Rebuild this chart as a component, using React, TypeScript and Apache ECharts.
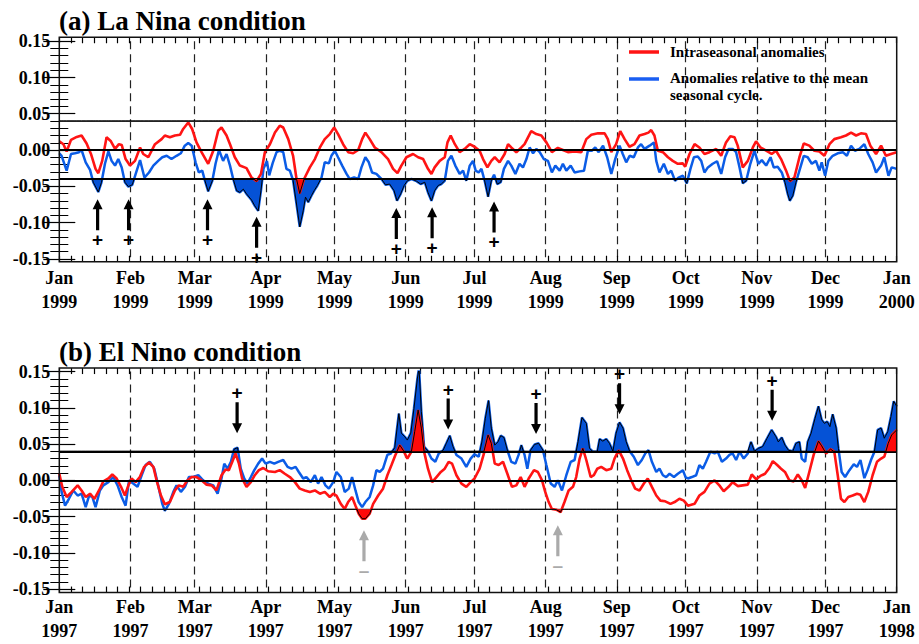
import React, { useEffect, useRef } from "react";
import * as echarts from "echarts";

// ---------- axis definitions ----------
const monthLengths = [31, 28, 31, 30, 31, 30, 31, 31, 30, 31, 30, 31];
const monthNames = ["Jan", "Feb", "Mar", "Apr", "May", "Jun", "Jul", "Aug", "Sep", "Oct", "Nov", "Dec", "Jan"];
const yearsA = ["1999", "1999", "1999", "1999", "1999", "1999", "1999", "1999", "1999", "1999", "1999", "1999", "2000"];
const yearsB = ["1997", "1997", "1997", "1997", "1997", "1997", "1997", "1997", "1997", "1997", "1997", "1997", "1998"];
const thresholds = [0.04, 0, -0.04];
const minorTicksPerYear = 72;

// ---------- (a) La Nina, 1999 ----------
const redDaysA = [0,1.8,3.2,5.1,7.6,9.7,11.9,13.8,15.8,17,
18.7,20.6,22.5,24.3,26,27.2,28.9,30.8,33,35.2,
36.6,38.8,41.7,44.6,46,48.2,50.4,52.6,54,56.2,
57.9,59.8,62,64.9,67.1,69.3,70.7,72.9,74.4,76.5,
78.7,81.6,83.8,86,87.9,89.6,91.8,94,96.1,97.6,
99.8,101.9,103.4,104.8,106.7,109.2,111.4,113.6,115.7,117.9,
119.8,121.5,123.7,125.9,128.1,130.3,132,133.4,135.3,137.5,
140.4,143.3,145.5,147.4,149.1,151.3,154.2,156.4,158.6,160.7,
162.2,163.6,165.8,168,169.2,170.6,172.4,174.5,176.7,178.9,
181,183.2,184.7,186.6,188.3,189.8,191.9,194.1,195.6,197,
199.2,201.4,202.8,204.3,205.7,207.9,210.1,212.3,214.7,217.3,
219.5,221.7,224.6,227.5,229.7,231.9,234.8,237.7,239.1,240.6,
242.7,244.5,246.4,248.5,250.7,252.9,255.1,256.8,258,259.4,
260.9,263.1,265.3,267.4,269.6,271.8,272.8,274.7,276.9,279,
281.2,283.4,286.3,288.5,290.6,292.5,294.3,295.7,297.9,300.1,
302.3,303.7,305.6,308.1,310.5,312.4,314.6,316.8,318.5,320.4,
322.6,324.5,326.9,329.1,331.3,333.5,335.7,337.8,340.7,342.9,
345.1,347.3,349.4,351.6,353.5,356,358.2,360.3,362.5,365];
const redValsA = [0.012,0.008,-0.002,0.014,0.018,0.02,0.009,-0.0055,-0.026,-0.032,
-0.015,0.0175,0.012,0.0015,0.008,0.007,-0.0125,-0.0215,-0.015,0.0035,
-0.0055,-0.01,0.008,0.015,0.02,0.0175,0.02,0.021,0.029,0.038,
0.029,0.0105,-0.003,-0.019,-0.001,0.027,0.031,0.02,0.008,-0.01,
-0.0215,-0.025,-0.038,-0.043,-0.033,-0.003,0.008,0.024,0.0335,0.031,
0.015,-0.008,-0.04,-0.06,-0.04,-0.024,-0.0125,0.0035,0.015,0.022,
0.031,0.022,0.008,-0.003,-0.0045,0,0.015,0.024,0.015,0.0035,
-0.003,-0.0125,-0.026,-0.032,-0.0215,-0.01,-0.0055,-0.01,-0.0125,-0.026,
-0.033,-0.024,-0.015,-0.01,0.0105,0.02,0.008,-0.003,0.0015,0.008,
0.0045,-0.001,-0.0125,-0.024,-0.015,-0.01,-0.017,-0.0055,0.008,0.0035,
-0.003,0.0035,0.008,0.0175,0.026,0.022,0.02,0.0105,-0.003,0.003,
0,-0.003,-0.002,-0.003,0.015,0.021,0.023,0.023,0.015,-0.003,
0.008,0.026,0.015,0.0045,0.008,0.02,0.022,0.024,0.0275,0.02,
-0.001,-0.003,-0.01,-0.015,-0.019,-0.0185,-0.023,-0.0055,0.008,0.0035,
-0.0055,-0.003,0.0015,-0.008,0.0105,0.019,0.0175,0.006,-0.024,-0.015,
0.0035,0.012,0.0035,-0.001,-0.0055,-0.001,-0.0125,-0.0285,-0.043,-0.038,
-0.01,0.009,0.006,-0.001,-0.002,-0.008,0.008,0.015,0.0175,0.02,
0.024,0.02,0.023,0.022,0.006,-0.0055,0.006,-0.008,-0.0055,-0.003];

const blueDaysA = [0,1,3.2,5.1,6.8,8.6,9.7,11.5,13.4,14.8,
17,18.4,19.9,21.4,22.8,24.3,25.7,27.2,28.6,30.1,
31.8,33.3,35.2,37.1,39.1,41,43.1,44.9,46.8,48.9,
51.1,53,54.7,56.2,57.7,59.4,60.8,62.3,63.5,64.9,
66.7,68.1,69.6,71.4,72.9,74.4,75.8,77.3,78.7,80.2,
81.6,83.8,85.2,86.7,87.9,89,90.5,91.5,93,94.7,
96.1,97.6,99,100.5,101.9,103.4,104.8,106.3,107.3,108.5,
109.9,111.1,112.5,114.3,115.7,117.5,118.6,120.1,121.5,123.3,
125.2,126.6,128.5,130.3,131.7,133.4,134.9,136.3,138.2,140.4,
142.2,144,145.9,147.2,148.8,150.3,151.7,153.5,155.7,157.5,
159.3,160.7,162.2,163.6,165.1,166.5,168,169.4,170.9,172.6,
174.5,176,177.4,178.9,180.3,181.5,182.8,184,185.4,186.9,
188.3,189.5,190.9,192.4,193.8,195.6,197,198.8,200.6,202.1,
203.6,205,206.5,207.9,209.4,211.2,213,214.7,216.2,218.1,
219.5,221,222.9,224.6,226.8,228.7,230.4,232.2,233.6,235.1,
237,238.8,240.6,242.3,244.2,245.6,247.1,248.6,250.4,252.2,
253.6,255.1,257.3,259.2,260.2,261.6,263.5,265.3,266.7,268.4,
269.9,271.8,273.5,275.1,276.6,278.3,279.8,281.2,282.7,284.8,
286.7,288.5,290.2,291.7,293.5,295,296.5,297.9,299.4,301.2,
303,304.7,306.2,308.1,310,311.4,313.1,314.9,316.3,317.5,
318.4,319.7,321.1,322.6,324.5,326.2,328,329.8,331.3,332.3,
333.8,335.2,337.1,339.3,341.5,343.3,345.1,346.8,348.7,350.9,
352.6,354.5,356,358.2,359.6,361.4,362.8,365];
const blueValsA = [-0.0045,-0.008,-0.0285,-0.0055,-0.0045,-0.003,0,-0.017,-0.0275,-0.0445,
-0.058,-0.0445,-0.019,-0.002,-0.015,-0.0215,-0.0125,-0.024,-0.0445,-0.0505,
-0.048,-0.033,-0.014,-0.038,-0.031,-0.0215,-0.015,-0.01,-0.008,-0.0125,
-0.008,-0.0045,0.006,0.0095,0.006,-0.017,-0.031,-0.0285,-0.0425,-0.057,
-0.0425,-0.019,0,-0.015,-0.0055,-0.0215,-0.04,-0.056,-0.0585,-0.054,
-0.0605,-0.069,-0.077,-0.084,-0.056,-0.026,-0.015,-0.035,-0.018,-0.003,
-0.001,-0.003,-0.026,-0.0285,-0.042,-0.0745,-0.106,-0.084,-0.065,-0.072,
-0.063,-0.056,-0.049,-0.038,-0.017,-0.0185,-0.008,-0.001,-0.01,-0.0215,
-0.033,-0.04,-0.038,-0.04,-0.024,-0.01,-0.017,-0.031,-0.033,-0.04,
-0.048,-0.047,-0.056,-0.07,-0.0605,-0.049,-0.0425,-0.04,-0.043,-0.047,
-0.0445,-0.0585,-0.07,-0.056,-0.049,-0.047,-0.0425,-0.015,-0.008,-0.0215,
-0.033,-0.0285,-0.0425,-0.0215,-0.015,-0.0285,-0.031,-0.026,-0.0425,-0.0645,
-0.0425,-0.034,-0.047,-0.0445,-0.026,-0.015,-0.0215,-0.033,-0.019,-0.024,
-0.0125,0.0035,-0.0045,0.0015,-0.003,-0.0125,-0.015,-0.031,-0.0215,-0.0285,
-0.019,-0.0285,-0.0215,-0.031,-0.0295,-0.0285,-0.001,-0.001,0.0035,-0.003,
0.006,-0.01,-0.033,-0.0125,0.006,-0.0055,-0.017,-0.008,-0.01,0.0035,
0.008,0.0015,0.006,0.0105,-0.015,-0.031,-0.019,-0.033,-0.0285,-0.0425,
-0.038,-0.0355,-0.046,-0.026,-0.01,-0.009,-0.015,-0.031,-0.024,-0.019,
-0.0155,-0.033,-0.01,0.0015,0.0015,-0.003,-0.024,-0.046,-0.0425,-0.019,
-0.001,-0.019,-0.014,-0.0215,-0.01,-0.024,-0.023,-0.031,-0.0445,-0.0605,
-0.07,-0.063,-0.0445,-0.0285,-0.008,-0.01,-0.019,-0.015,-0.0285,-0.017,
-0.0355,-0.015,-0.008,-0.0045,-0.003,-0.008,0.006,-0.001,0.0015,0.008,
-0.0055,-0.017,-0.031,-0.0215,-0.01,-0.0355,-0.024,-0.026];

// ---------- (b) El Nino, 1997 ----------
const redDaysB = [0,1.3,3.2,5.4,8,9.7,11.5,13.4,15.3,17.3,
19.2,21.4,23.1,25,26.9,28.6,30.1,31.5,33.3,35.1,
37,39.1,41,42.4,44.3,46,48.2,50.4,52.1,54,
55.9,57.7,59.8,62,64.2,66.4,68.5,70.7,72.5,73.9,
75.4,76.8,78.3,79.7,81.6,83.5,85.2,87,88.9,91,
94,96.1,98.3,100.5,102.7,104.8,107,109.2,111.4,113.6,
115.7,117.9,119.4,120.8,122.7,124.4,125.9,127.6,129.1,130.5,
132,133.4,135.3,136.8,139,141.1,143,144.8,146.5,148.4,
149.9,151.7,153.5,154.9,156.4,157.8,159,160.7,162.5,164.4,
166.3,168,169.7,171.2,173.1,175.3,177.4,179.3,181,183.2,
185.1,186.9,188.3,189.8,191.5,193.4,195.3,197.3,199.2,201.1,
202.8,204.6,206.9,208.6,210.4,211.8,213.3,214.7,216.6,218.5,
220.2,222,223.9,225.3,226.8,228.2,229.7,231.6,233,234.5,
236.2,238.4,240.6,242,243.8,245.7,247.5,249.3,251,252.9,
254.8,256.5,258.3,260.2,262,264.1,266.4,268.2,270.3,272.2,
274,276.9,279,281.2,283.4,285.6,287.7,289.6,291.7,293.5,
295.7,297.9,300.1,301.8,303.7,305.6,307.6,309.5,311,312.9,
314.6,316.3,318.2,320.1,321.9,323.6,325.1,326.9,328.8,330.9,
332.3,334.2,336.1,337.8,339.3,340.7,342.2,343.9,345.8,347.7,
349.2,350.9,352.6,354.5,356.4,358.2,359.6,361.3,362.8,365];
const redValsB = [0.009,-0.009,-0.023,-0.016,-0.007,-0.014,-0.023,-0.0185,-0.0255,-0.014,
-0.0015,0.0025,0.008,0.0025,-0.009,-0.021,-0.007,0.0025,-0.0025,0.0045,
0.0185,0.0245,0.0185,0,-0.021,-0.033,-0.03,-0.014,-0.007,-0.009,
0,0.0045,0.0045,0,-0.006,-0.007,-0.014,0.007,0.015,0.014,
0.0255,0.037,0.023,0.0025,-0.009,-0.0025,0.007,0.014,0.017,0.0125,
0.0115,0.014,0.009,0.0045,-0.0025,-0.0115,-0.014,-0.016,-0.014,-0.0185,
-0.016,-0.023,-0.0185,-0.021,-0.0325,-0.0395,-0.03,-0.023,-0.035,-0.046,
-0.053,-0.053,-0.046,-0.0325,-0.021,-0.0115,0.007,0.021,0.035,0.0485,
0.0415,0.03,0.0395,0.067,0.097,0.072,0.0395,0.016,-0.0025,0.0045,
0.0115,0.016,0.0255,0.023,0.007,-0.0045,-0.009,-0.0025,0.0025,0.016,
0.037,0.0625,0.051,0.023,0.021,0.0255,0.009,-0.009,-0.007,0.0045,
-0.009,0.0025,0.014,0.0115,0,-0.016,-0.03,-0.0395,-0.0405,-0.044,
-0.03,-0.014,-0.009,0.0045,0.03,0.044,0.028,0.0045,0.007,0.016,
0.0185,0.014,0.016,0.03,0.0415,0.03,0.014,0,-0.0115,-0.014,
-0.0045,0.0025,-0.009,-0.021,-0.028,-0.029,-0.0325,-0.03,-0.0255,-0.028,
-0.035,-0.0325,-0.021,-0.016,-0.0045,0,-0.007,-0.015,-0.009,-0.0025,
-0.008,-0.007,-0.006,0.008,0.0015,0.006,0.009,0.017,0.0265,0.021,
0.016,0.0115,0,-0.0015,0.008,0,-0.0105,0.0115,0.035,0.054,
0.0475,0.037,0.043,0.0395,0.007,-0.0255,-0.03,-0.023,-0.021,-0.0185,
-0.02,-0.03,-0.016,0.007,0.0255,0.03,0.0325,0.051,0.0625,0.0695];

const blueDaysB = [0,1,2.5,4.2,6.1,8,9.7,11.5,13,14.4,
15.8,17.7,19.2,21.4,23.5,25.4,27.2,28.9,30.4,32.2,
34.1,35.9,37.6,39.5,41.4,43.1,44.9,46,47.8,49.7,
51.1,53,54.8,56.5,58.4,60.6,62.7,64.9,67.1,69,
70.7,71.9,73.3,74.8,76.2,77.7,79.1,80.6,82,83.5,
85,86.7,88.4,89.9,91.8,93.7,95.4,97.6,99.5,101.2,
103,104.4,106.3,107.7,109.6,111.4,112.8,114.3,116,117.5,
119.4,120.8,122.7,124.4,126.2,127.6,129.1,130.5,132,133.4,
135.3,136.8,138.2,139.7,141.1,143,144.5,146.2,148,149.1,
150.6,151.7,153.2,154.6,156.1,156.8,157.8,159,160.4,162.2,
163.9,165.4,167.3,168.7,170.2,171.6,173.1,175.3,177.4,179.3,
181,182.8,184.2,185.7,187.1,188.3,189.8,191.2,192.4,193.8,
195.3,197,198.8,200.2,201.4,202.8,204,205.4,207.2,208.9,
210.8,212.3,214.2,215.9,217.3,219.1,221,222.9,224.6,226.1,
227.8,229.7,231.1,232.6,234.5,235.5,236.9,238.4,239.8,241.3,
242.7,244.2,245.7,247.1,248.6,250.4,252.2,253.9,255.4,256.8,
258.3,260.2,261.6,263.1,264.5,266,267.9,269.6,271.8,273,
274,275.7,277.6,279,280.5,281.9,283.8,285.6,287,288.8,
290.6,292.1,293.5,295,296.5,298.3,300.1,301.5,303,304.7,
306.6,308.5,310.5,312.4,313.4,314.9,316.3,317.8,319.7,321.1,
322.6,323.6,325.1,326.2,327.7,329.4,330.9,332.3,333.5,334.7,
335.9,337.1,338.6,339.6,341,342.5,344.4,346.3,347.7,349.2,
350.9,352.3,353.8,355.3,356.7,358.2,359.6,361.1,362.5,363.7,
365];
const blueValsB = [0.007,-0.016,-0.035,-0.0255,-0.014,-0.021,-0.0185,-0.037,-0.021,-0.023,
-0.037,-0.014,-0.007,-0.0025,0.0045,-0.007,-0.023,-0.035,0,-0.0045,
-0.009,0.007,0.021,0.0255,0.016,-0.007,-0.0325,-0.042,-0.0325,-0.016,
-0.007,-0.016,-0.009,0.0045,0.0045,0.007,0,-0.0045,-0.007,-0.0185,
0.0025,0.023,0.016,0.0255,0.043,0.045,0.016,0.0025,-0.0045,0.0045,
0.014,0.023,0.03,0.023,0.0255,0.023,0.0255,0.028,0.0185,0.016,
0.0185,0.0115,0.0025,0.0045,-0.0025,0.007,-0.0045,0.0045,-0.007,-0.0115,
-0.0025,0.0115,0.0045,-0.016,-0.0115,0.0045,-0.014,-0.03,-0.037,-0.03,
-0.023,-0.007,0.014,0.0115,0.016,0.035,0.037,0.045,0.092,0.065,
0.06,0.0555,0.065,0.0995,0.141,0.155,0.095,0.0465,0.0415,0.03,
0.0255,0.037,0.0415,0.051,0.0615,0.0465,0.035,0.03,0.0185,0.03,
0.036,0.0325,0.053,0.0855,0.11,0.072,0.0485,0.053,0.0615,0.059,
0.0415,0.0255,0.023,0.035,0.0485,0.035,0.016,0.0415,0.0495,0.051,
0.0415,0.021,-0.0045,-0.009,0,-0.014,0.007,0.0255,0.028,0.053,
0.0865,0.0785,0.044,0.0395,0.0395,0.057,0.054,0.057,0.051,0.04,
0.065,0.08,0.072,0.053,0.04,0.0325,0.021,0.028,0.037,0.0415,
0.0255,0.0115,0.016,0.007,0.0045,0.009,0.0045,0.009,0.014,0.004,
0.0025,0.0045,0.007,0.021,0.016,0.0255,0.0395,0.037,0.0395,0.0255,
0.03,0.035,0.037,0.028,0.0395,0.03,0.037,0.053,0.04,0.044,
0.0465,0.058,0.0695,0.06,0.053,0.059,0.0485,0.0415,0.04,0.051,
0.053,0.03,0.0255,0.053,0.065,0.0855,0.102,0.0835,0.0785,0.081,
0.074,0.091,0.072,0.044,0.0115,0.0045,0.014,0.022,0.0185,0.028,
0.003,0.014,0.028,0.0395,0.0695,0.072,0.058,0.067,0.088,0.109,
0.102];

// ---------- annotation arrows (day, tip value) ----------
const upArrowDaysA = [16.7, 30.2, 64.6, 86, 146.9, 162.5, 189.5];
const upArrowTipsA = [-0.068, -0.068, -0.068, -0.092, -0.08, -0.079, -0.071];
const downArrowDaysB = [77.5, 169.5, 207.8, 244.2, 310.7];
const downArrowTipsB = [0.065, 0.07, 0.064, 0.091, 0.082];
const grayArrowDaysB = [132.8, 217.3];
const grayArrowTipsB = [-0.069, -0.062];

// ---------- styling ----------
const FONT = '"Liberation Serif", "Times New Roman", serif';
const RED = "#ff1414";
const BLUE = "#0b5ce6";
const FILL_BLUE = "#0552d6";
const FILL_RED = "#ff0a0a";
const UP_ARROW = "path://M5 0L10 10L6.6 10L6.6 31L3.4 31L3.4 10L0 10Z";
const DOWN_ARROW = "path://M3.4 0L6.6 0L6.6 21L10 21L5 31L0 21L3.4 21Z";

const monthStarts: number[] = [0];
monthLengths.forEach((l, i) => monthStarts.push(monthStarts[i] + l));
const totalDays = monthStarts[12];
const monthStartSet = new Set(monthStarts);
const dayCats = Array.from({ length: totalDays + 1 }, (_, i) => String(i));

function zip(days: number[], vals: number[]) {
  const n = Math.min(days.length, vals.length);
  const out: number[][] = [];
  for (let i = 0; i < n; i++) out.push([days[i], vals[i]]);
  return out;
}

// portion of the curve beyond a threshold (clipped to the threshold line)
function beyond(days: number[], vals: number[], thr: number, above: boolean) {
  const n = Math.min(days.length, vals.length);
  const out: number[][] = [];
  for (let i = 0; i < n; i++) {
    const d = days[i], v = vals[i];
    if (i > 0) {
      const pd = days[i - 1], pv = vals[i - 1];
      const pIn = above ? pv > thr : pv < thr;
      const cIn = above ? v > thr : v < thr;
      if (pIn !== cIn && v !== pv) {
        const t = (thr - pv) / (v - pv);
        out.push([pd + t * (d - pd), thr]);
      }
    }
    out.push([d, above ? Math.max(v, thr) : Math.min(v, thr)]);
  }
  return out;
}

const App: React.FC = () => {
  const ref = useRef<HTMLDivElement>(null);

  useEffect(() => {
    if (!ref.current) return;
    const chart = echarts.init(ref.current, undefined, { renderer: "svg" });

    const gridTops = [41.25, 371.55];
    const gridH = 217.5;
    const frames = [
      { y: 37.3, h: 224.4 },
      { y: 368.1, h: 224.4 },
    ];
    const years = [yearsA, yearsB];
    const botOffsets = [3, 3.5];
    const topOffsets = [4, 3.5];
    const labelMargins = [4, 2.5];
    const tickInterval = totalDays / minorTicksPerYear;

    const xAxes: any[] = [];
    const yAxes: any[] = [];
    [0, 1].forEach((g) => {
      // 0: data axis
      xAxes.push({ type: "value", gridIndex: g, min: 0, max: totalDays, show: false });
      // 1: month labels + dashed month lines
      xAxes.push({
        type: "category", gridIndex: g, position: "bottom", data: dayCats, boundaryGap: false,
        offset: botOffsets[g],
        axisLine: { show: false },
        axisTick: { show: false },
        splitLine: {
          show: true,
          interval: (i: number) => monthStartSet.has(i) && i > 0 && i < totalDays,
          lineStyle: { color: "#222", width: 1.2, type: [8, 5] },
        },
        axisLabel: {
          show: true,
          interval: (i: number) => monthStartSet.has(i),
          formatter: (val: string) => {
            const idx = monthStarts.indexOf(Number(val));
            return idx >= 0 ? monthNames[idx] + "\n" + years[g][idx] : "";
          },
          fontFamily: FONT, fontWeight: "bold", fontSize: 18, color: "#000",
          lineHeight: 24, margin: labelMargins[g],
        },
      });
      // 2,3: small ticks bottom / top
      [
        { pos: "bottom", off: botOffsets[g] },
        { pos: "top", off: topOffsets[g] },
      ].forEach(({ pos, off }) => {
        xAxes.push({
          type: "value", gridIndex: g, position: pos, min: 0, max: totalDays, interval: tickInterval,
          offset: off,
          axisLine: { show: false },
          axisTick: { show: true, inside: true, length: 6, lineStyle: { color: "#000", width: 1.2 } },
          axisLabel: { show: false },
          splitLine: { show: false },
        });
      });
      ["left", "right"].forEach((pos) => {
        yAxes.push({
          type: "value", gridIndex: g, position: pos, min: -0.15, max: 0.15, interval: 0.05,
          axisLine: { show: false },
          axisTick: { show: true, inside: true, length: 16, lineStyle: { color: "#000", width: 1.2 } },
          minorTick: { show: true, splitNumber: 5, length: 9, lineStyle: { color: "#000", width: 1 } },
          splitLine: { show: false },
          axisLabel: {
            show: pos === "left",
            formatter: (v: number) => v.toFixed(2),
            fontFamily: FONT, fontWeight: "bold", fontSize: 18, color: "#000", margin: 9,
          },
        });
      });
    });

    const thrLineStyles = [
      [
        { color: "#444", width: 1.2 },
        { color: "#000", width: 2.2 },
        { color: "#000", width: 2 },
      ],
      [
        { color: "#000", width: 2 },
        { color: "#000", width: 2.2 },
        { color: "#444", width: 1.2 },
      ],
    ];

    const panelSeries = (
      g: number,
      redDays: number[], redVals: number[],
      blueDays: number[], blueVals: number[],
    ) => {
      const xi = g * 4;
      const yi = g * 2;
      const base = { xAxisIndex: xi, yAxisIndex: yi, showSymbol: false, silent: true, animation: false };
      const fill = (data: number[][], color: string, origin: number, z: number) => ({
        ...base, type: "line", data, z,
        lineStyle: { color: "#000", width: 1 },
        areaStyle: { color, opacity: 1, origin },
      });
      return [
        {
          ...base, type: "line", name: "blue", data: zip(blueDays, blueVals), z: 2,
          lineStyle: { color: BLUE, width: 2.5 },
          markLine: {
            silent: true, symbol: ["none", "none"], label: { show: false }, animation: false,
            data: thresholds.map((t, k) => ({ yAxis: t, lineStyle: { ...thrLineStyles[g][k], type: "solid" } })),
          },
        },
        fill(beyond(blueDays, blueVals, -0.04, false), FILL_BLUE, -0.04, 3),
        fill(beyond(blueDays, blueVals, 0.04, true), FILL_BLUE, 0.04, 3),
        {
          ...base, type: "line", name: "red", data: zip(redDays, redVals), z: 4,
          lineStyle: { color: RED, width: 2.6 },
        },
        fill(beyond(redDays, redVals, -0.04, false), FILL_RED, -0.04, 5),
        fill(beyond(redDays, redVals, 0.04, true), FILL_RED, 0.04, 5),
      ];
    };

    const arrowSeries = (
      g: number, days: number[], tips: number[], up: boolean, color: string, text: string,
    ) => ({
      type: "scatter", xAxisIndex: g * 4, yAxisIndex: g * 2, silent: true, z: 8,
      data: zip(days, tips),
      symbol: up ? UP_ARROW : DOWN_ARROW,
      symbolSize: [10, 31],
      symbolOffset: [0, up ? 15.5 : -15.5],
      itemStyle: { color, opacity: 1 },
      label: {
        show: true, formatter: text, position: up ? "bottom" : "top", distance: 0,
        fontFamily: '"Liberation Sans", Arial, sans-serif', fontWeight: "bold", fontSize: 19, color,
      },
    });

    const graphics: any[] = [];
    frames.forEach((f) => {
      graphics.push({
        type: "rect", z: 100, silent: true,
        shape: { x: 59.3, y: f.y, width: 837.4, height: f.h },
        style: { fill: "none", stroke: "#111", lineWidth: 1.5 },
      });
    });
    graphics.push(
      { type: "text", x: 59, y: 21, z: 100, style: { text: "(a) La Nina condition", font: `bold 27px ${FONT}`, fill: "#000", align: "left", verticalAlign: "middle" } },
      { type: "text", x: 59, y: 352, z: 100, style: { text: "(b) El Nino condition", font: `bold 27px ${FONT}`, fill: "#000", align: "left", verticalAlign: "middle" } },
      { type: "line", z: 100, shape: { x1: 629, y1: 52, x2: 659, y2: 52 }, style: { stroke: RED, lineWidth: 3.5 } },
      { type: "line", z: 100, shape: { x1: 629, y1: 79, x2: 659, y2: 79 }, style: { stroke: "#1a5ef2", lineWidth: 3.5 } },
      { type: "text", x: 670, y: 52, z: 100, style: { text: "Intraseasonal anomalies", font: `bold 15px ${FONT}`, fill: "#000", align: "left", verticalAlign: "middle" } },
      { type: "text", x: 670, y: 78, z: 100, style: { text: "Anomalies relative to the mean", font: `bold 15px ${FONT}`, fill: "#000", align: "left", verticalAlign: "middle" } },
      { type: "text", x: 670, y: 95, z: 100, style: { text: "seasonal cycle.", font: `bold 15px ${FONT}`, fill: "#000", align: "left", verticalAlign: "middle" } },
    );

    const option: any = {
      animation: false,
      backgroundColor: "#fff",
      textStyle: { fontFamily: FONT },
      grid: gridTops.map((t) => ({ left: 59.3, top: t, width: 837.4, height: gridH, containLabel: false })),
      xAxis: xAxes,
      yAxis: yAxes,
      series: [
        ...panelSeries(0, redDaysA, redValsA, blueDaysA, blueValsA),
        ...panelSeries(1, redDaysB, redValsB, blueDaysB, blueValsB),
        arrowSeries(0, upArrowDaysA, upArrowTipsA, true, "#000", "+"),
        arrowSeries(1, downArrowDaysB, downArrowTipsB, false, "#000", "+"),
        arrowSeries(1, grayArrowDaysB, grayArrowTipsB, true, "#aaaaaa", "\u2013"),
      ],
      graphic: graphics,
    };

    chart.setOption(option);
    return () => chart.dispose();
  }, []);

  return (
    <div
      ref={ref}
      style={{ position: "absolute", left: 0, top: 0, width: 919, height: 644, background: "#fff" }}
    />
  );
};

export default App;
